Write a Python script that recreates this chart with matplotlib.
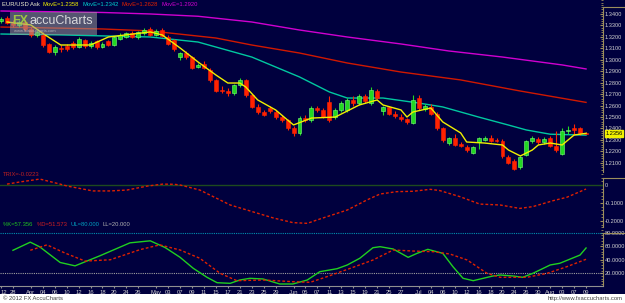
import matplotlib
matplotlib.use('Agg')
import matplotlib.pyplot as plt
from matplotlib.patches import Rectangle
from matplotlib.lines import Line2D
from matplotlib.ticker import FixedLocator, AutoMinorLocator
import numpy as np

plt.rcParams['font.family'] = ['Liberation Sans', 'DejaVu Sans']

# --- data (EUR/USD daily, 26 Mar - 09 Aug 2012) ---
opens = [1.3335, 1.3365, 1.3320, 1.3305, 1.3330, 1.3270, 1.3215, 1.3215, 1.3135, 1.3070,
         1.3100, 1.3120, 1.3150, 1.3110, 1.3170, 1.3120, 1.3160, 1.3110, 1.3160, 1.3130,
         1.3185, 1.3200, 1.3230, 1.3200, 1.3230, 1.3270, 1.3220, 1.3260, 1.3200, 1.3170,
         1.3020, 1.3060, 1.3020, 1.2940, 1.2960, 1.2910, 1.2820, 1.2740, 1.2730, 1.2710,
         1.2780, 1.2820, 1.2690, 1.2590, 1.2545, 1.2580, 1.2540, 1.2500, 1.2470, 1.2400,
         1.2360, 1.2490, 1.2470, 1.2580, 1.2560, 1.2630, 1.2500, 1.2560, 1.2560, 1.2650,
         1.2620, 1.2680, 1.2620, 1.2730, 1.2550, 1.2585, 1.2525, 1.2500, 1.2480, 1.2450,
         1.2670, 1.2570, 1.2590, 1.2530, 1.2400, 1.2270, 1.2320, 1.2262, 1.2240, 1.2190,
         1.2280, 1.2300, 1.2320, 1.2300, 1.2290, 1.2150, 1.2120, 1.2060, 1.2170, 1.2290,
         1.2310, 1.2280, 1.2320, 1.2250, 1.2180, 1.2380, 1.2400, 1.2400, 1.2360]
highs = [1.3370, 1.3385, 1.3345, 1.3345, 1.3350, 1.3290, 1.3260, 1.3245, 1.3150, 1.3125,
         1.3125, 1.3140, 1.3165, 1.3195, 1.3185, 1.3160, 1.3175, 1.3155, 1.3175, 1.3210,
         1.3230, 1.3240, 1.3250, 1.3250, 1.3275, 1.3285, 1.3265, 1.3280, 1.3220, 1.3180,
         1.3070, 1.3075, 1.3030, 1.2975, 1.2985, 1.2925, 1.2835, 1.2770, 1.2750, 1.2790,
         1.2840, 1.2830, 1.2700, 1.2610, 1.2560, 1.2600, 1.2565, 1.2515, 1.2485, 1.2420,
         1.2505, 1.2520, 1.2600, 1.2600, 1.2580, 1.2680, 1.2575, 1.2640, 1.2670, 1.2680,
         1.2700, 1.2700, 1.2760, 1.2745, 1.2600, 1.2600, 1.2550, 1.2525, 1.2495, 1.2690,
         1.2695, 1.2615, 1.2610, 1.2545, 1.2415, 1.2330, 1.2350, 1.2280, 1.2260, 1.2250,
         1.2330, 1.2335, 1.2345, 1.2320, 1.2305, 1.2165, 1.2135, 1.2160, 1.2300, 1.2335,
         1.2330, 1.2325, 1.2335, 1.2380, 1.2400, 1.2420, 1.2440, 1.2415, 1.2370]
lows = [1.3320, 1.3310, 1.3290, 1.3290, 1.3255, 1.3200, 1.3195, 1.3115, 1.3055, 1.3045,
        1.3070, 1.3080, 1.3095, 1.3100, 1.3105, 1.3105, 1.3095, 1.3100, 1.3120, 1.3120,
        1.3170, 1.3190, 1.3190, 1.3185, 1.3220, 1.3210, 1.3205, 1.3195, 1.3130, 1.3075,
        1.3000, 1.3010, 1.2920, 1.2925, 1.2920, 1.2805, 1.2715, 1.2710, 1.2680, 1.2695,
        1.2765, 1.2675, 1.2575, 1.2525, 1.2505, 1.2535, 1.2485, 1.2455, 1.2385, 1.2335,
        1.2340, 1.2455, 1.2460, 1.2545, 1.2490, 1.2455, 1.2480, 1.2545, 1.2540, 1.2600,
        1.2605, 1.2625, 1.2605, 1.2655, 1.2520, 1.2515, 1.2495, 1.2465, 1.2440, 1.2440,
        1.2560, 1.2555, 1.2515, 1.2385, 1.2285, 1.2255, 1.2245, 1.2235, 1.2195, 1.2175,
        1.2220, 1.2290, 1.2280, 1.2280, 1.2145, 1.2090, 1.2040, 1.2045, 1.2160, 1.2275,
        1.2265, 1.2265, 1.2235, 1.2195, 1.2170, 1.2350, 1.2340, 1.2340, 1.2350]
closes = [1.3360, 1.3320, 1.3305, 1.3330, 1.3270, 1.3215, 1.3240, 1.3130, 1.3070, 1.3110,
          1.3090, 1.3095, 1.3110, 1.3180, 1.3120, 1.3150, 1.3110, 1.3140, 1.3130, 1.3200,
          1.3220, 1.3230, 1.3200, 1.3240, 1.3260, 1.3220, 1.3250, 1.3210, 1.3140, 1.3090,
          1.3060, 1.3020, 1.2930, 1.2955, 1.2930, 1.2820, 1.2730, 1.2730, 1.2710, 1.2780,
          1.2820, 1.2690, 1.2590, 1.2540, 1.2520, 1.2550, 1.2500, 1.2470, 1.2400, 1.2360,
          1.2490, 1.2470, 1.2580, 1.2560, 1.2500, 1.2470, 1.2560, 1.2620, 1.2650, 1.2620,
          1.2680, 1.2640, 1.2740, 1.2670, 1.2585, 1.2530, 1.2510, 1.2480, 1.2460, 1.2650,
          1.2580, 1.2600, 1.2530, 1.2400, 1.2300, 1.2320, 1.2260, 1.2250, 1.2210, 1.2240,
          1.2320, 1.2320, 1.2290, 1.2290, 1.2160, 1.2100, 1.2050, 1.2150, 1.2290, 1.2320,
          1.2280, 1.2310, 1.2250, 1.2210, 1.2380, 1.2390, 1.2390, 1.2360, 1.2356]

# moving averages sampled along the chart (day index -> value)
ema_fast_day = [1, 5, 7, 10, 15, 18, 25, 27, 30, 33, 36, 38, 40, 41, 43, 46, 48, 49, 52,
                56, 60, 63, 64, 67, 68, 69, 72, 74, 77, 78, 81, 84, 85, 87, 89, 90, 92, 94, 95, 96, 98]
ema_fast = [1.3330, 1.3304, 1.3230, 1.3129, 1.3129, 1.3199, 1.3243, 1.3217, 1.3103, 1.2981,
            1.2867, 1.2797, 1.2797, 1.2762, 1.2649, 1.2562, 1.2474, 1.2431, 1.2491, 1.2500,
            1.2605, 1.2649, 1.2605, 1.2562, 1.2500, 1.2544, 1.2579, 1.2457, 1.2361, 1.2282,
            1.2273, 1.2256, 1.2212, 1.2160, 1.2212, 1.2256, 1.2273, 1.2256, 1.2300, 1.2343, 1.2358]
ema_mid_day = [0, 10, 25, 33, 42, 50, 55, 58, 64, 70, 74, 80, 85, 88, 92, 98]
ema_mid = [1.3225, 1.3217, 1.3199, 1.3155, 1.3024, 1.2850, 1.2719, 1.2666, 1.2666, 1.2622,
           1.2588, 1.2500, 1.2430, 1.2387, 1.2350, 1.2342]
ema_100_day = [0, 17, 25, 36, 42, 50, 58, 67, 77, 87, 98]
ema_100 = [1.3286, 1.3269, 1.3252, 1.3190, 1.3129, 1.3059, 1.2972, 1.2893, 1.2824, 1.2727, 1.2628]
ema_200_day = [0, 17, 25, 33, 42, 50, 58, 67, 75, 84, 94, 98]
ema_200 = [1.3426, 1.3413, 1.3400, 1.3380, 1.3330, 1.3260, 1.3199, 1.3138, 1.3077, 1.3024, 1.2955, 1.2920]

trix_day = [1.0, 3.2, 6.5, 9.9, 11.1, 15.4, 18.3, 21.1, 24.5, 27.1, 29.0, 30.0, 31.2, 33.3,
            38.4, 41.2, 45.6, 48.9, 51.3, 53.4, 58.0, 61.3, 63.5, 66.3, 69.0, 71.9, 73.5,
            76.9, 80.2, 83.6, 86.9, 89.1, 92.5, 94.8, 98.0]
trix = [0.005, 0.017, 0.033, 0.005, -0.006, -0.033, -0.033, -0.028, -0.006, 0.005, 0.004, 0.0,
        -0.010, -0.028, -0.111, -0.139, -0.183, -0.209, -0.213, -0.189, -0.139, -0.083, -0.050,
        -0.037, -0.035, -0.024, -0.031, -0.065, -0.106, -0.111, -0.130, -0.120, -0.087, -0.068,
        -0.0223]

stoch_k_day = [2.0, 4.9, 6.5, 9.9, 12.4, 16.6, 21.6, 25.0, 27.5, 30.0, 32.2, 34.5, 36.2, 38.4,
               40.0, 41.7, 43.9, 46.7, 48.9, 51.3, 53.4, 56.3, 58.0, 60.1, 62.3, 63.5, 65.7,
               68.2, 69.7, 71.5, 74.0, 75.7, 77.4, 79.1, 82.4, 83.6, 85.8, 87.4, 89.1, 92.0,
               93.6, 97.0, 98.0]
stoch_k = [54, 66, 59, 36, 31, 46, 65, 68, 58, 43.6, 27.4, 14.1, 6.1, 5.2, 10.1, 12.6, 11.6,
           4.2, 4.2, 10.1, 22.4, 26.8, 32.3, 42.2, 57.8, 59.3, 55.9, 43.6, 49.5, 55.4, 49.5,
           29.8, 12.6, 9.1, 16, 17.5, 16, 14.1, 20, 32.3, 34.8, 47, 57.4]
stoch_d_day = [4.9, 7.7, 10.7, 14.1, 18.3, 23.3, 26.6, 30.0, 33.3, 36.7, 39.5, 43.9, 48.9,
               51.8, 54.6, 59.0, 62.3, 65.7, 69.0, 72.4, 75.2, 78.1, 81.4, 83.6, 88.1, 91.5,
               94.8, 98.0]
stoch_d = [54, 62, 50, 38, 40, 55, 62, 54.4, 42.2, 20, 9.1, 10.1, 7.6, 6.7, 15, 28.9, 39.6,
           54.4, 52.9, 51.9, 48.5, 39.6, 20, 14.1, 14.1, 20, 29.8, 40.7]

tick_day = [0, 2, 5, 7, 9, 11, 13, 15, 17, 19, 21, 23, 26, 28, 30, 32, 34, 36, 38, 40, 42, 44, 46,
            49, 51, 53, 55, 57, 59, 61, 63, 65, 67, 70, 72, 74, 76, 78, 80, 82, 84, 86, 88, 90,
            92, 94, 96, 98]
tick_txt = ['12', '28', 'Apr', '04', '06', '10', '12', '16', '18', '20', '24', '26', 'May', '03',
            '07', '09', '11', '15', '17', '21', '23', '25', '29', 'Jun', '05', '07', '11', '13',
            '15', '19', '21', '25', '27', 'Jul', '04', '06', '10', '12', '16', '18', '20', '24',
            '26', '30', 'Aug', '03', '07', '09']

# --- style ---
W, H = 625, 303
NAVY = '#00003E'
TAN = '#9C8E5C'
LBL = '#D0D0D0'
UP, DN = '#22D822', '#FF2200'
FS = 4.2

fig = plt.figure(figsize=(W / 100, H / 100), dpi=100, facecolor=NAVY)
renderer = fig.canvas.get_renderer()


def panel(top, bottom, box_top):
    ax = fig.add_axes([0, 1 - bottom / H, 603 / W, (bottom - top) / H])
    ax.set_facecolor(NAVY)
    for s in ['top', 'left', 'bottom']:
        ax.spines[s].set_visible(False)
    ax.spines['right'].set_color(TAN)
    ax.yaxis.tick_right()
    ax.tick_params(axis='y', which='both', direction='in', color=TAN, labelcolor=LBL,
                   labelsize=4.1, pad=1.5, length=2.5)
    ax.tick_params(axis='y', which='minor', length=1.2)
    ax.yaxis.set_minor_locator(AutoMinorLocator(5))
    ax.set_xlim(-0.17, 100.84)
    ax.set_xticks([])
    # little box edge on the right axis strip
    fig.add_artist(Line2D([603 / W, 1], [1 - box_top / H] * 2, color=TAN, lw=0.8))
    return ax


def text_row(x, y, parts, gap=3):
    # coloured legend pieces laid out one after another
    for s, cl in parts:
        t = fig.text(x / W, 1 - y / H, s, color=cl, fontsize=FS, va='center')
        x += t.get_window_extent(renderer).width + gap


n = len(closes)
days = np.arange(n)

# main price panel
ax = panel(0, 172, 7)
ax.set_ylim(1.2020, 1.3522)
ax.spines['right'].set_bounds(1.2020, 1.3461)
ax.set_yticks(np.arange(1.21, 1.345, 0.01))
ax.set_yticklabels(['%.4f' % v for v in np.arange(1.21, 1.345, 0.01)])

o, h, l, c = map(np.array, (opens, highs, lows, closes))
up = c >= o
col = np.where(up, UP, DN)
ax.vlines(days, l, h, colors=col, lw=0.8, zorder=3)
body_lo = np.minimum(o, c)
body_h = np.maximum(np.abs(c - o), 0.0006)
ax.bar(days, body_h, bottom=body_lo, width=0.66, color=col,
       edgecolor=np.where(up, '#7CFF7C', DN), linewidth=0.4, zorder=4)

ax.plot(ema_200_day, ema_200, color='#D000D0', lw=1.0, zorder=2)
ax.plot(ema_100_day, ema_100, color='#D01800', lw=1.0, zorder=2)
ax.plot(ema_mid_day, ema_mid, color='#00C8A0', lw=1.0, zorder=2)
ax.plot(ema_fast_day, ema_fast, color='#F0F000', lw=1.0, zorder=5)

# current price tag
ax.text(1.004, closes[-1], '%.4f' % closes[-1], transform=ax.get_yaxis_transform(),
        fontsize=4.1, color='black', va='center', ha='left',
        bbox=dict(boxstyle='square,pad=0.1', fc='#F0F000', ec='#F0F000'))

# watermark
fig.add_artist(Rectangle((10 / W, 1 - 35 / H), 87 / W, 23 / H, transform=fig.transFigure,
                         fc='#9A9A9A', alpha=0.55, ec='none', zorder=10))
fig.text(12 / W, 1 - 21 / H, 'FX', color='#A8D040', fontsize=9, fontweight='bold',
         va='center', alpha=0.9, zorder=11)
fig.text(30 / W, 1 - 21 / H, 'accuCharts', color='#E8E8E8', fontsize=9,
         va='center', alpha=0.9, zorder=11)
fig.text(14 / W, 1 - 31 / H, 'www.fxaccucharts.com', color='#C8C8C8', fontsize=3,
         va='center', alpha=0.8, zorder=11)

# header legend
text_row(2, 4, [('EUR/USD Ask', '#F0F0D0'), ('MovE=1.2358', '#F0F000'),
                ('MovE=1.2342', '#00D0D0'), ('MovE=1.2628', '#E02000'),
                ('MovE=1.2920', '#D000D0')])

# TRIX panel
ax2 = panel(172, 227, 178)
ax2.set_ylim(-0.2333, 0.0722)
ax2.spines['right'].set_bounds(-0.2333, 0.0389)
ax2.set_yticks([0, -0.1, -0.2])
ax2.set_yticklabels(['0', '-0.1000', '-0.2000'])
ax2.axhline(0, color='#1E4A1E', lw=1.0)
ax2.plot(trix_day, trix, color='#E02000', lw=1.0, ls=(0, (2, 1.5)))
text_row(3, 175, [('TRIX=-0.0223', '#C02020')])

# Stochastic panel
ax3 = panel(227, 286, 233)
ax3.set_ylim(1.24, 88.4)
ax3.spines['right'].set_bounds(1.24, 79.5)
ax3.set_yticks([20, 40, 60, 80])
ax3.set_yticklabels(['20.0000', '40.0000', '60.0000', '80.0000'])
ax3.axhline(80, color='#0090B0', lw=0.8, ls=(0, (1, 1)))
ax3.axhline(20, color='#A0A0A0', lw=0.8, ls=(0, (1, 1)))
ax3.plot(stoch_k_day, stoch_k, color='#20D020', lw=1.0)
ax3.plot(stoch_d_day, stoch_d, color='#E02000', lw=1.0, ls=(0, (2, 1.5)))
text_row(3, 225, [('%K=57.356', '#20C020'), ('%D=51.573', '#D02020'),
                  ('UL=80.000', '#00A0C0'), ('LL=20.000', '#B0B0B0')])

ax3.spines['bottom'].set_visible(True)
ax3.spines['bottom'].set_color('#909090')
ax3.xaxis.set_major_locator(FixedLocator(tick_day))
ax3.set_xticklabels(tick_txt)
ax3.tick_params(axis='x', colors=LBL, labelsize=FS, length=1.5, pad=1.5, color='#909090')
ax3.get_xticklabels()[0].set_ha('left')

# footer strip
fig.add_artist(Rectangle((0, 0), 1, 9 / H, transform=fig.transFigure, fc='white', ec='none'))
fig.text(3 / W, 4.5 / H, '\u00a9 2012 FX AccuCharts', color='#404040', fontsize=FS, va='center')
fig.text(622 / W, 4.5 / H, 'http://www.fxaccucharts.com', color='#404040', fontsize=FS,
         va='center', ha='right')

fig.savefig('out.png', dpi=100, facecolor=NAVY)
